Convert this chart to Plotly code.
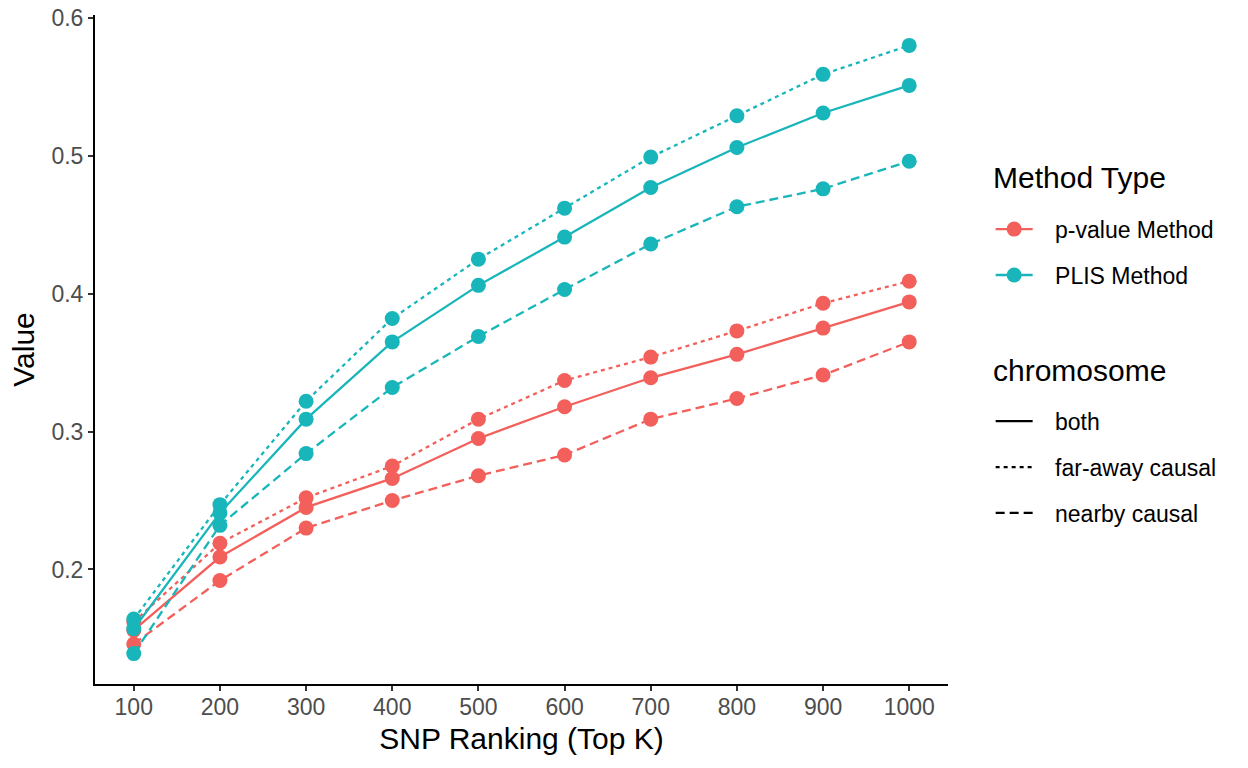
import plotly.graph_objects as go

snp_k = [100, 200, 300, 400, 500, 600, 700, 800, 900, 1000]
x_ticks = [100, 200, 300, 400, 500, 600, 700, 800, 900, 1000]
y_ticks = [0.2, 0.3, 0.4, 0.5, 0.6]

methods = ["p-value Method", "PLIS Method"]
chromosomes = ["both", "far-away causal", "nearby causal"]

pvalue_both = [0.156, 0.209, 0.245, 0.266, 0.295, 0.318, 0.339, 0.356, 0.375, 0.394]
pvalue_far = [0.162, 0.219, 0.252, 0.275, 0.309, 0.337, 0.354, 0.373, 0.393, 0.409]
pvalue_near = [0.146, 0.192, 0.230, 0.250, 0.268, 0.283, 0.309, 0.324, 0.341, 0.365]

plis_both = [0.157, 0.241, 0.309, 0.365, 0.406, 0.441, 0.477, 0.506, 0.531, 0.551]
plis_far = [0.164, 0.247, 0.322, 0.382, 0.425, 0.462, 0.499, 0.529, 0.559, 0.580]
plis_near = [0.139, 0.232, 0.284, 0.332, 0.369, 0.403, 0.436, 0.463, 0.476, 0.496]

colors = {"p-value Method": "#F35F5A", "PLIS Method": "#18B6BA"}
dashes = {"both": "solid", "far-away causal": "4px,4px", "nearby causal": "9px,5px"}

series = {
    ("p-value Method", "both"): pvalue_both,
    ("p-value Method", "far-away causal"): pvalue_far,
    ("p-value Method", "nearby causal"): pvalue_near,
    ("PLIS Method", "both"): plis_both,
    ("PLIS Method", "far-away causal"): plis_far,
    ("PLIS Method", "nearby causal"): plis_near,
}

fig = go.Figure()

for (m, c), vals in series.items():
    fig.add_trace(go.Scatter(
        x=snp_k, y=vals, mode="lines+markers",
        line=dict(color=colors[m], width=2.3, dash=dashes[c]),
        marker=dict(color=colors[m], size=15),
        showlegend=False, hoverinfo="x+y",
    ))

PAD = "\u00a0\u00a0\u2009"

# legend entries: Method Type
for i, m in enumerate(methods):
    fig.add_trace(go.Scatter(
        x=[None], y=[None], mode="lines+markers", name=PAD + m,
        line=dict(color=colors[m], width=2.3),
        marker=dict(color=colors[m], size=15),
        legend="legend", legendgroup="m%d" % i,
    ))

# legend entries: chromosome
for i, c in enumerate(chromosomes):
    fig.add_trace(go.Scatter(
        x=[None], y=[None], mode="lines", name=PAD + c,
        line=dict(color="black", width=2.3, dash=dashes[c]),
        legend="legend2", legendgroup="c%d" % i,
    ))

all_vals = [v for vals in series.values() for v in vals]
ymin, ymax = min(all_vals), max(all_vals)
ypad = 0.05 * (ymax - ymin)
xpad = 0.05 * (max(snp_k) - min(snp_k))

font_family = "Liberation Sans, Arial, sans-serif"

fig.update_layout(
    width=1248, height=768,
    plot_bgcolor="white", paper_bgcolor="white",
    margin=dict(l=95, r=300, t=15, b=84, autoexpand=False),
    font=dict(family=font_family, color="black"),
    xaxis=dict(
        range=[min(snp_k) - xpad, max(snp_k) + xpad],
        tickvals=x_ticks, ticktext=[str(t) for t in x_ticks],
        showline=True, linecolor="black", linewidth=2,
        ticks="outside", ticklen=5, tickwidth=1.5, tickcolor="#333333",
        showgrid=False, zeroline=False, automargin=False,
        ticklabelstandoff=-4,
        tickfont=dict(size=23, color="#4D4D4D"),
        title=dict(text="SNP Ranking (Top K)", font=dict(size=30, color="black"), standoff=9),
    ),
    yaxis=dict(
        range=[ymin - ypad, ymax + ypad],
        tickvals=y_ticks, ticktext=["%.1f" % t for t in y_ticks],
        showline=True, linecolor="black", linewidth=2,
        ticks="outside", ticklen=5, tickwidth=1.5, tickcolor="#333333",
        showgrid=False, zeroline=False, automargin=False,
        tickfont=dict(size=23, color="#4D4D4D"),
        title=dict(text="Value", font=dict(size=30, color="black"), standoff=8),
    ),
    legend=dict(
        x=1.05, xanchor="left", y=0.712, yanchor="top",
        font=dict(size=23, color="black"),
        tracegroupgap=13, itemwidth=37, traceorder="grouped",
        bgcolor="rgba(0,0,0,0)",
    ),
    legend2=dict(
        x=1.05, xanchor="left", y=0.425, yanchor="top",
        font=dict(size=23, color="black"),
        tracegroupgap=13, itemwidth=37, traceorder="grouped",
        bgcolor="rgba(0,0,0,0)",
    ),
    annotations=[
        dict(text="Method Type", xref="paper", yref="paper", x=1.0505, y=0.7564,
             xanchor="left", yanchor="middle", showarrow=False,
             font=dict(size=30, color="black")),
        dict(text="chromosome", xref="paper", yref="paper", x=1.0505, y=0.4679,
             xanchor="left", yanchor="middle", showarrow=False,
             font=dict(size=30, color="black")),
    ],
)

fig.write_html("out.html", post_script="document.body.style.margin='0px';",
               config={"displayModeBar": False})
